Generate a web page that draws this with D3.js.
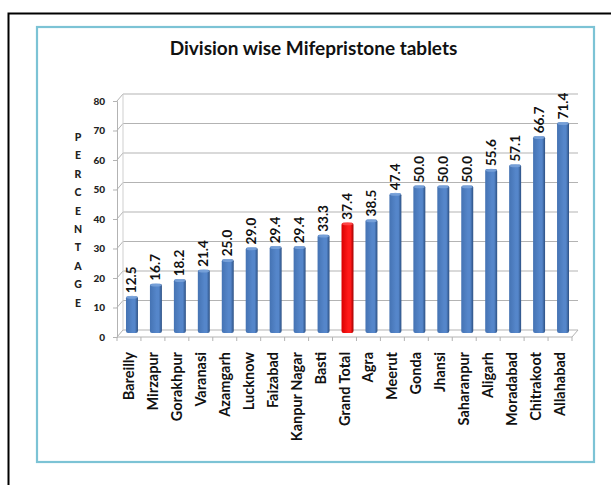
<!DOCTYPE html>
<html><head><meta charset="utf-8">
<script src="https://cdn.jsdelivr.net/npm/d3@7"></script>
<style>body{margin:0;background:#fff}svg{display:block}</style>
</head><body><svg id="c" width="611" height="485"></svg>
<script>
const categories = ["Bareilly","Mirzapur","Gorakhpur","Varanasi","Azamgarh","Lucknow","Faizabad","Kanpur Nagar","Basti","Grand Total","Agra","Meerut","Gonda","Jhansi","Saharanpur","Aligarh","Moradabad","Chitrakoot","Allahabad"];
const values = [12.5,16.7,18.2,21.4,25.0,29.0,29.4,29.4,33.3,37.4,38.5,47.4,50.0,50.0,50.0,55.6,57.1,66.7,71.4];
const yTicks = [0,10,20,30,40,50,60,70,80];
const highlight = "Grand Total";
const title = "Division wise Mifepristone tablets";
const yTitle = "PERCENTAGE";

const svg = d3.select("#c");
const font = "Lato, 'Open Sans', sans-serif";

// frames
svg.append("rect").attr("x",8.5).attr("y",13.5).attr("width",640).attr("height",520)
  .attr("fill","none").attr("stroke","#000").attr("stroke-width",2);
svg.append("rect").attr("x",37).attr("y",27).attr("width",557).attr("height",435)
  .attr("fill","#fff").attr("stroke","#7cc3d5").attr("stroke-width",2.2);

svg.append("text").attr("x",313.5).attr("y",55).attr("text-anchor","middle")
  .attr("font-family",font).attr("font-weight",700).attr("font-size",19).attr("fill","#111").text(title);

const x = d3.scaleBand().domain(categories).range([117,572]).paddingInner(0.5).paddingOuter(0.25);
const y = d3.scaleLinear().domain([0,80]).range([337,101]);
const dx = 6, dy = -7;

// back-wall gridlines
const g = svg.append("g");
yTicks.forEach(t=>{
  g.append("line").attr("x1",117+dx).attr("x2",572+dx).attr("y1",y(t)+dy).attr("y2",y(t)+dy)
    .attr("stroke","#b3b3b3").attr("stroke-width",1.2);
  g.append("line").attr("x1",117).attr("x2",117+dx).attr("y1",y(t)).attr("y2",y(t)+dy)
    .attr("stroke","#b3b3b3").attr("stroke-width",1);
});
g.append("line").attr("x1",117+dx).attr("x2",117+dx).attr("y1",y(80)+dy).attr("y2",y(0)+dy).attr("stroke","#cfcfcf");
g.append("line").attr("x1",572).attr("x2",572+dx).attr("y1",y(0)).attr("y2",y(0)+dy).attr("stroke","#b3b3b3");
g.append("line").attr("x1",117).attr("x2",572).attr("y1",y(0)).attr("y2",y(0)).attr("stroke","#b3b3b3").attr("stroke-width",1.2);

// y axis
const yAxis = d3.axisLeft(y).tickValues(yTicks).tickSize(4).tickPadding(8).tickFormat(d3.format("d"));
const ya = svg.append("g").attr("transform","translate(117,0)").call(yAxis);
ya.select(".domain").attr("stroke","#b3b3b3");
ya.selectAll(".tick line").attr("stroke","#b3b3b3");
ya.selectAll("text").attr("font-family",font).attr("font-weight",900).attr("font-size",10).attr("fill","#222");

// x axis ticks between bars
const bounds = d3.range(categories.length+1).map(i=> i===0?117: (i===categories.length?572: x(categories[i]) - x.step()*x.paddingInner()/2));
bounds.forEach(b=>{
  svg.append("line").attr("x1",b).attr("x2",b).attr("y1",y(0)).attr("y2",y(0)+4).attr("stroke","#b3b3b3");
});

// y title stacked letters
svg.append("g").selectAll("text").data(yTitle.split("")).join("text")
  .attr("x",78).attr("y",(d,i)=>141+i*18.4).attr("text-anchor","middle")
  .attr("font-family",font).attr("font-weight",900).attr("font-size",10.5).attr("fill","#222").text(d=>d);

// gradients
const defs = svg.append("defs");
function grad(id, c1, c2, c3){
  const lg = defs.append("linearGradient").attr("id",id).attr("x1","0").attr("x2","1").attr("y1","0").attr("y2","0");
  lg.append("stop").attr("offset","0").attr("stop-color",c1);
  lg.append("stop").attr("offset","0.55").attr("stop-color",c2);
  lg.append("stop").attr("offset","0.75").attr("stop-color",c2);
  lg.append("stop").attr("offset","1").attr("stop-color",c3);
}
grad("gb","#4573b3","#5586ca","#2c5083");
grad("gr","#d80000","#ff1a1a","#a00000");

const bx = 3, by = -4;
const bars = svg.append("g");
categories.forEach((c,i)=>{
  const v = values[i];
  const x0 = x(c)+bx, w = x.bandwidth(), top = y(v)+by, base = y(0)+by;
  const hl = c===highlight;
  bars.append("rect").attr("x",x0).attr("y",top).attr("width",w).attr("height",base-top)
    .attr("rx",2).attr("fill",hl?"url(#gr)":"url(#gb)");
  bars.append("ellipse").attr("cx",x0+w/2).attr("cy",top+1.2).attr("rx",w/2-0.5).attr("ry",1.5)
    .attr("fill",hl?"#ff5050":"#7ea6dc").attr("opacity",0.8);
  svg.append("text").attr("transform",`translate(${x0+w/2+4.5},${top-3}) rotate(-90)`)
    .attr("font-family",font).attr("font-weight",700).attr("font-size",13.5).attr("fill","#111")
    .text(d3.format(".1f")(v));
  svg.append("text").attr("transform",`translate(${x(c)+x.bandwidth()/2+5},352) rotate(-90)`)
    .attr("text-anchor","end").attr("font-family",font).attr("font-weight",700).attr("font-size",14.5).attr("fill","#111")
    .text(c);
});
</script></body></html>
